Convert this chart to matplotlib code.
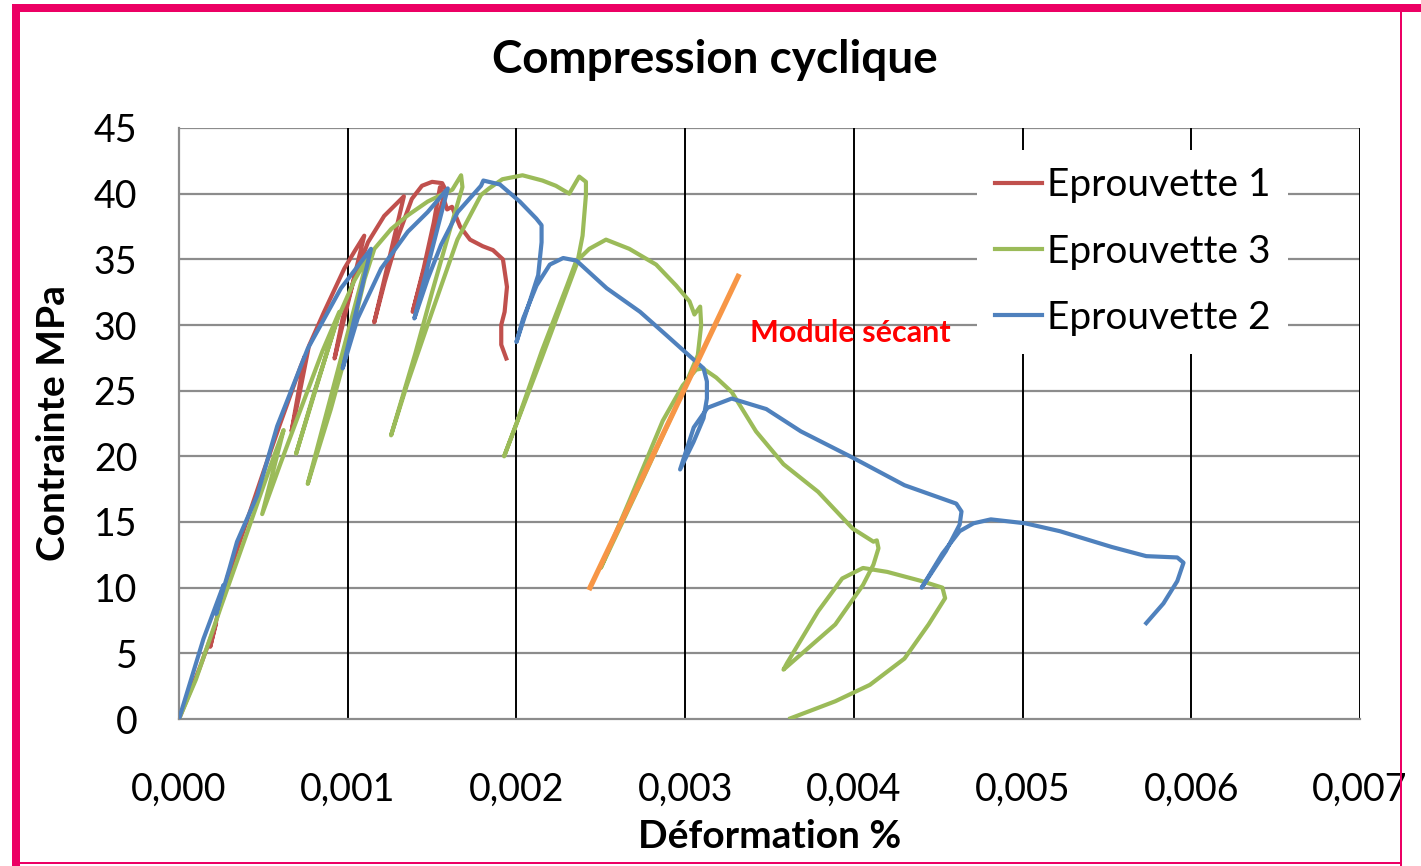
# plot.py
# Compression cyclique: stress-strain curves of three specimens

import numpy as np
import matplotlib.pyplot as plt
from matplotlib import ticker
from matplotlib.patches import Rectangle

# strain values are given in thousandths (x 1e-3), stress in MPa
eprouvette1_strain = [0, 0.12, 0.22, 0.185, 0.23, 0.29, 0.264, 0.31, 0.40, 0.50, 0.60, 0.72,
                      0.745, 0.667, 0.71, 0.77, 0.86, 0.98, 1.04, 1.098, 0.922, 0.97, 1.04,
                      1.12, 1.216, 1.333, 1.157, 1.22, 1.30, 1.38, 1.44, 1.50, 1.56, 1.58,
                      1.385, 1.45, 1.51, 1.547, 1.589, 1.618, 1.666, 1.725, 1.80, 1.861,
                      1.92, 1.944, 1.93, 1.91, 1.91, 1.94]
eprouvette1_stress = [0, 3.8, 7.3, 5.5, 8.0, 10.9, 9.2, 11.6, 15.0, 18.8, 22.5, 26.8,
                      27.6, 21.9, 24.5, 28.4, 31.0, 34.3, 35.6, 36.8, 27.45, 30.5, 33.6,
                      36.3, 38.3, 39.8, 30.2, 33.3, 36.8, 39.6, 40.6, 40.9, 40.8, 40.3,
                      31.0, 34.3, 37.8, 40.5, 38.8, 39.0, 37.5, 36.5, 36.0, 35.7,
                      35.0, 32.9, 31.0, 30.0, 28.5, 27.45]

eprouvette3_strain = [0, 0.10, 0.25, 0.404, 0.543, 0.62, 0.493, 0.60, 0.742, 0.85, 0.95,
                      0.694, 0.80, 0.941, 1.04, 1.12, 0.763, 0.90, 1.02, 1.10, 1.158,
                      1.257, 1.356, 1.474, 1.553, 1.62, 1.672, 1.68, 1.60, 1.50, 1.40,
                      1.257, 1.35, 1.50, 1.65, 1.79, 1.838, 1.917, 2.036, 2.154, 2.234,
                      2.313, 2.372, 2.412, 2.412, 2.392, 2.362, 2.15, 1.927, 2.0, 2.15,
                      2.30, 2.352, 2.432, 2.531, 2.669, 2.828, 2.947, 3.026, 3.055, 3.089,
                      3.095, 3.075, 2.95, 2.75, 2.50, 2.669, 2.867, 2.986, 3.065, 3.105,
                      3.184, 3.276, 3.42, 3.583, 3.788, 3.993, 4.116, 4.136, 4.146, 4.116,
                      4.054, 3.89, 3.583, 3.604, 3.788, 3.931, 4.054, 4.198, 4.402, 4.525,
                      4.541, 4.443, 4.30, 4.095, 3.89, 3.624]
eprouvette3_stress = [0, 3.0, 8.6, 14.2, 19.3, 22.0, 15.6, 19.4, 24.3, 28.0, 31.0,
                      20.2, 24.8, 30.5, 33.4, 35.2, 17.9, 23.6, 29.2, 33.5, 35.8,
                      37.3, 38.35, 39.4, 39.9, 40.3, 41.4, 40.5, 37.0, 32.5, 27.8,
                      21.6, 25.4, 31.0, 36.5, 39.9, 40.4, 41.1, 41.4, 41.0, 40.6,
                      40.0, 41.3, 40.9, 39.9, 36.8, 34.8, 27.5, 20.0, 22.5, 28.0,
                      33.0, 34.8, 35.8, 36.5, 35.8, 34.6, 33.0, 31.8, 30.8, 31.4,
                      30.0, 27.7, 23.9, 18.3, 11.5, 16.6, 22.7, 25.4, 26.6, 26.7,
                      26.0, 24.9, 21.9, 19.4, 17.3, 14.5, 13.5, 13.6, 13.0, 11.75,
                      10.2, 7.2, 3.76, 4.26, 8.2, 10.7, 11.5, 11.2, 10.5, 10.0,
                      9.2, 7.2, 4.6, 2.6, 1.35, 0.05]

eprouvette2_strain = [0, 0.145, 0.264, 0.22, 0.30, 0.344, 0.463, 0.582, 0.763, 0.96, 1.138,
                      0.97, 1.059, 1.198, 1.356, 1.474, 1.593, 1.395, 1.474, 1.553, 1.652,
                      1.79, 1.804, 1.902, 2.02, 2.118, 2.149, 2.149, 2.129, 2.079, 2.0,
                      2.04, 2.119, 2.198, 2.277, 2.356, 2.535, 2.733, 2.891, 3.03, 3.109,
                      3.129, 3.129, 3.109, 3.05, 2.97, 3.051, 3.133, 3.276, 3.481, 3.686,
                      3.993, 4.30, 4.607, 4.638, 4.627, 4.546, 4.402, 4.525, 4.627, 4.709,
                      4.812, 5.016, 5.221, 5.528, 5.733, 5.917, 5.954, 5.917, 5.835, 5.733]
eprouvette2_stress = [0, 6.1, 10.2, 8.0, 11.5, 13.5, 17.0, 22.3, 28.2, 32.8, 35.8,
                      26.7, 30.5, 34.3, 37.1, 38.6, 40.4, 30.5, 33.5, 36.1, 38.6,
                      40.6, 41.0, 40.7, 39.4, 38.1, 37.6, 36.3, 33.8, 31.8, 28.7,
                      30.5, 33.0, 34.6, 35.1, 34.9, 32.8, 31.0, 29.2, 27.6, 26.7,
                      25.7, 24.4, 22.9, 21.1, 19.0, 22.2, 23.7, 24.4, 23.6, 21.9,
                      19.9, 17.8, 16.4, 15.8, 14.8, 12.8, 10.0, 12.6, 14.3, 14.9,
                      15.2, 14.9, 14.3, 13.1, 12.4, 12.3, 11.9, 10.5, 8.8, 7.3]

secant_strain = [2.436, 3.314]
secant_stress = [10.0, 33.7]

x_ticks = np.arange(0, 8) / 1000
y_ticks = np.arange(0, 50, 5)

RED = "#C0504D"
GREEN = "#9BBB59"
BLUE = "#4F81BD"
ORANGE = "#F79646"
PINK = "#EC0064"

W, H = 1421, 866


def comma_fmt(v, _):
    return f"{v:.3f}".replace(".", ",")


def main():
    plt.rcParams["font.family"] = ["Lato", "DejaVu Sans"]

    fig = plt.figure(figsize=(W / 100, H / 100), dpi=100)
    ax = fig.add_axes([179 / W, 1 - 719 / H, (1360 - 179) / W, (719 - 128) / H])

    # pink frame around the picture
    for x0, y0, x1, y1 in [(12, 4, W, 12), (12, 4, 20, H), (1400, 4, 1402, H), (12, 862, 1402, 864)]:
        fig.patches.append(Rectangle((x0 / W, 1 - y1 / H), (x1 - x0) / W, (y1 - y0) / H,
                                     transform=fig.transFigure, color=PINK, lw=0, zorder=0))

    ax.set_xlim(0, 0.007)
    ax.set_ylim(0, 45)
    ax.set_xticks(x_ticks)
    ax.set_yticks(y_ticks)
    ax.xaxis.set_major_formatter(ticker.FuncFormatter(comma_fmt))
    ax.tick_params(length=0, labelsize=27)
    ax.tick_params(axis="x", pad=38)
    ax.tick_params(axis="y", pad=30)

    for y in y_ticks[1:]:
        ax.axhline(y, color="#8C8C8C", lw=1.6, zorder=1)
    for x in x_ticks[1:]:
        ax.axvline(x, color="black", lw=1.4, zorder=1)
    for s in ("top", "right"):
        ax.spines[s].set_visible(False)
    for s in ("left", "bottom"):
        ax.spines[s].set_color("#8C8C8C")
        ax.spines[s].set_linewidth(1.6)

    lw = 3.0
    ax.plot(np.array(eprouvette1_strain) / 1000, eprouvette1_stress, c=RED, lw=lw,
            label="Eprouvette 1", zorder=3)
    ax.plot(np.array(eprouvette3_strain) / 1000, eprouvette3_stress, c=GREEN, lw=lw,
            label="Eprouvette 3", zorder=3)
    ax.plot(np.array(eprouvette2_strain) / 1000, eprouvette2_stress, c=BLUE, lw=lw,
            label="Eprouvette 2", zorder=4)
    ax.plot(np.array(secant_strain) / 1000, secant_stress, c=ORANGE, lw=3.8, zorder=5)

    ax.text(3.385 / 1000, 29.4, "Module sécant", color="red", fontsize=22,
            fontweight="bold", va="center", ha="left", zorder=6)

    leg = ax.legend(loc="upper left", bbox_to_anchor=(0.676, 0.963), borderaxespad=0,
                    fontsize=28, handlelength=1.2, handletextpad=0.15, labelspacing=0.78,
                    borderpad=0.45, frameon=True, fancybox=False, framealpha=1)
    leg.get_frame().set_edgecolor("none")
    leg.set_zorder(7)

    fig.text(715 / W, 1 - 60 / H, "Compression cyclique", ha="center", va="center",
             fontsize=33, fontweight="bold")
    ax.set_xlabel("Déformation %", fontsize=28, fontweight="bold", labelpad=8)
    ax.set_ylabel("Contrainte MPa", fontsize=28, fontweight="bold", labelpad=16)

    fig.savefig("out.png", dpi=100)


if __name__ == "__main__":
    main()
